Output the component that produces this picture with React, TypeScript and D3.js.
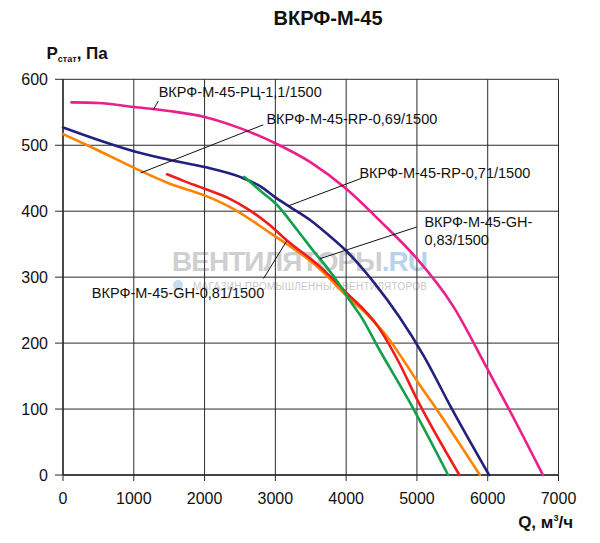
import React from 'react';
import * as d3 from 'd3';

// chart values: [Q m3/h, Pstat Pa]
const xTicks = [0, 1000, 2000, 3000, 4000, 5000, 6000, 7000];
const yTicks = [0, 100, 200, 300, 400, 500, 600];

const rc11: [number, number][] = [
  [120, 565], [500, 564], [1000, 558], [1500, 552], [2000, 543], [2500, 526],
  [3000, 503], [3500, 474], [4000, 434], [4500, 383], [5000, 328], [5500, 258],
  [6000, 160], [6300, 100], [6780, 0],
];
const rp071: [number, number][] = [
  [0, 527], [500, 508], [1000, 491], [1500, 478], [2000, 467], [2500, 452],
  [2800, 437], [3000, 421], [3200, 407], [3500, 386], [3750, 364], [4000, 340],
  [4400, 291], [4750, 240], [5100, 180], [5480, 103], [6020, 0],
];
const rp069: [number, number][] = [
  [0, 517], [500, 492], [1000, 466], [1500, 442], [2000, 424],
  [2400, 404], [2900, 369], [3150, 351], [3500, 324], [3650, 310], [4050, 267],
  [4300, 243], [4620, 204], [4810, 174], [5030, 138], [5270, 101], [5890, 0],
];
const gh081: [number, number][] = [
  [1470, 456], [1700, 446], [2000, 434], [2350, 419], [2600, 404], [2920, 379],
  [3160, 356], [3630, 316], [4000, 277], [4450, 225], [4730, 174], [5000, 115],
  [5600, 0],
];
const gh083: [number, number][] = [
  [2560, 452], [2800, 430], [3000, 412], [3320, 370], [3535, 340], [3720, 316],
  [3910, 288], [4050, 265], [4200, 242], [4480, 188], [4900, 110], [5440, 0],
];

const series = [
  { name: 'RC-1,1', data: rc11, color: '#ec1e8c' },
  { name: 'RP-0,71', data: rp071, color: '#22217e' },
  { name: 'RP-0,69', data: rp069, color: '#ff8200' },
  { name: 'GH-0,81', data: gh081, color: '#f01c1c' },
  { name: 'GH-0,83', data: gh083, color: '#13a04a' },
];

// callouts: text anchor and leader line in data units
const callouts = [
  { lines: ['ВКРФ-М-45-РЦ-1,1/1500'], tx: 1352, ty: 580, from: [1346, 567], to: [1275, 554] },
  { lines: ['ВКРФ-М-45-RP-0,69/1500'], tx: 2874, ty: 540, from: [2829, 531], to: [1097, 458] },
  { lines: ['ВКРФ-М-45-RP-0,71/1500'], tx: 4188, ty: 458, from: [4219, 450], to: [3182, 408] },
  { lines: ['ВКРФ-М-45-GH-', '0,83/1500'], tx: 5106, ty: 383, from: [4997, 376], to: [3630, 328] },
  { lines: ['ВКРФ-М-45-GH-0,81/1500'], tx: 407, ty: 276, from: [2833, 298], to: [3161, 355] },
];

const FONT = '"Liberation Sans", Arial, sans-serif';

export default function App() {
  const width = 600;
  const height = 543;
  const left = 63;
  const right = 558.5;
  const top = 79.3;
  const bottom = 475;

  const x = d3.scaleLinear().domain([0, 7000]).range([left, right]);
  const y = d3.scaleLinear().domain([0, 600]).range([bottom, top]);

  const line = d3
    .line<[number, number]>()
    .x((d) => x(d[0]))
    .y((d) => y(d[1]))
    .curve(d3.curveMonotoneX);

  const gridColor = '#2a2a2a';

  return (
    <svg
      width={width}
      height={height}
      style={{ position: 'absolute', left: 0, top: 0, background: '#fff' }}
      fontFamily={FONT}
    >
      <rect width={width} height={height} fill="#fff" />

      {/* title */}
      <text x={328} y={24.5} textAnchor="middle" fontSize={20} fontWeight="bold" fill="#111">
        ВКРФ-М-45
      </text>

      {/* watermark */}
      <g>
        <text x={172} y={271} fontSize={28} fontWeight="bold" fill="#cfcfcf" textLength={256}>
          ВЕНТИЛЯТОРЫ<tspan fill="#b9d3ec">.RU</tspan>
        </text>
        <circle cx={178} cy={285} r={5} fill="#c4dcf0" />
        <text x={193} y={289.5} fontSize={10} fill="#c9c9c9" textLength={234}>
          МАГАЗИН ПРОМЫШЛЕННЫХ ВЕНТИЛЯТОРОВ
        </text>
      </g>

      {/* grid */}
      {xTicks.map((t) => (
        <line key={'gx' + t} x1={x(t)} x2={x(t)} y1={top} y2={bottom + 6} stroke={gridColor} strokeWidth={1} />
      ))}
      {yTicks.map((t) => (
        <line key={'gy' + t} x1={left - 8} x2={right} y1={y(t)} y2={y(t)} stroke={gridColor} strokeWidth={1} />
      ))}
      <line x1={left} x2={left} y1={top} y2={bottom} stroke={gridColor} strokeWidth={1.4} />
      <line x1={left} x2={right} y1={bottom} y2={bottom} stroke={gridColor} strokeWidth={1.4} />

      {/* tick labels */}
      {xTicks.map((t) => (
        <text key={'lx' + t} x={x(t)} y={504} textAnchor="middle" fontSize={16} fill="#111">
          {t}
        </text>
      ))}
      {yTicks.map((t) => (
        <text key={'ly' + t} x={48} y={y(t) + 5.5} textAnchor="end" fontSize={16} fill="#111">
          {t}
        </text>
      ))}

      {/* axis titles */}
      <text x={46.5} y={59} fontSize={17} fontWeight="bold" fill="#111">
        Р<tspan fontSize={9} dy={3}>стат</tspan>
        <tspan dy={-3}>, Па</tspan>
      </text>
      <text x={573} y={527.5} textAnchor="end" fontSize={17} fontWeight="bold" fill="#111">
        Q, м<tspan fontSize={9} dy={-7}>3</tspan>
        <tspan dy={7}>/ч</tspan>
      </text>

      {/* curves */}
      {series.map((s) => (
        <path
          key={s.name}
          d={line(s.data) || ''}
          fill="none"
          stroke={s.color}
          strokeWidth={2.6}
          strokeLinecap="round"
        />
      ))}

      {/* callouts */}
      {callouts.map((c, i) => (
        <g key={'c' + i}>
          <line
            x1={x(c.from[0])}
            y1={y(c.from[1])}
            x2={x(c.to[0])}
            y2={y(c.to[1])}
            stroke="#111"
            strokeWidth={1}
          />
          {c.lines.map((l, j) => (
            <text key={j} x={x(c.tx)} y={y(c.ty) + 5 + j * 17.7} fontSize={14.5} fill="#111">
              {l}
            </text>
          ))}
        </g>
      ))}
    </svg>
  );
}
